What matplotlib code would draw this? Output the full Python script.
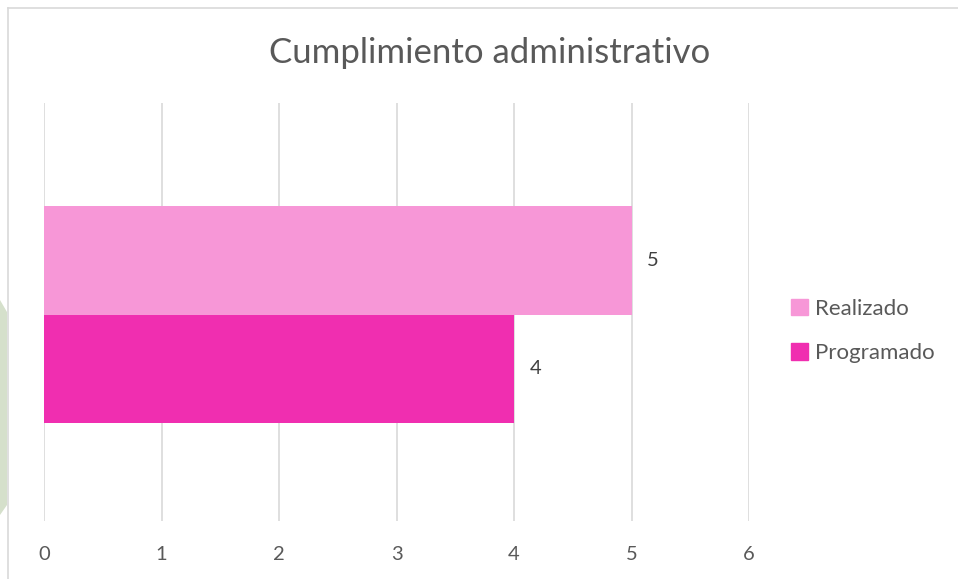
import matplotlib
matplotlib.use("Agg")
import matplotlib.pyplot as plt
from matplotlib.patches import Rectangle, Polygon
from matplotlib.lines import Line2D

title = "Cumplimiento administrativo"
series = ["Realizado", "Programado"]
values = [5, 4]
colors = ["#F797D7", "#F02EB0"]
xticks = [0, 1, 2, 3, 4, 5, 6]

plt.rcParams['font.family'] = ['Lato', 'DejaVu Sans']
txt = "#595959"

W, H = 958, 579
fig = plt.figure(figsize=(W/100, H/100), dpi=100)
fig.patch.set_facecolor("white")

# faint green decoration at the left edge
fig.patches.append(Polygon([(0, 1-300/H), (7/W, 1-312/H), (7/W, 1-505/H), (0, 1-515/H)],
                           closed=True, transform=fig.transFigure, facecolor="#D5E0CB",
                           edgecolor="none", zorder=0))
# chart border (top and left)
fig.add_artist(Line2D([8/W, 1], [1-8/H, 1-8/H], transform=fig.transFigure, color="#D9D9D9", lw=1.2))
fig.add_artist(Line2D([8/W, 8/W], [0, 1-8/H], transform=fig.transFigure, color="#D9D9D9", lw=1.2))

ax = fig.add_axes([44/W, 1-521/H, (749-44)/W, (521-103)/H])
ax.set_xlim(0, 6)
off = 2.5/418
ax.set_ylim(-0.5 + off, 0.5 + off)
h = 108.5/418
pos = [h/2, -h/2]
for s, v, c, p in zip(series, values, colors, pos):
    ax.barh(p, v, height=h, color=c, label=s, zorder=3)
    ax.text(v + 0.13, p, str(v), va="center", ha="left", fontsize=14.5, color="#404040")

ax.set_xticks(xticks)
ax.set_xticklabels([str(t) for t in xticks])
ax.set_yticks([])
ax.grid(axis="x", color="#D9D9D9", lw=1.2, zorder=0)
for sp in ax.spines.values():
    sp.set_visible(False)
ax.tick_params(axis="x", length=0, pad=18, labelsize=14.5, labelcolor=txt)

fig.text(490/W, 1-53/H, title, ha="center", va="center", fontsize=25, color=txt)

handles = [Rectangle((0, 0), 1, 1, color=c) for c in colors]
fig.legend(handles, series, loc="center left", bbox_to_anchor=(791/W, 1-331/H),
           frameon=False, fontsize=16, labelcolor=txt, handlelength=0.75, handleheight=0.75,
           handletextpad=0.35, labelspacing=1.1, borderaxespad=0, borderpad=0)

fig.savefig("out.png", dpi=100)
